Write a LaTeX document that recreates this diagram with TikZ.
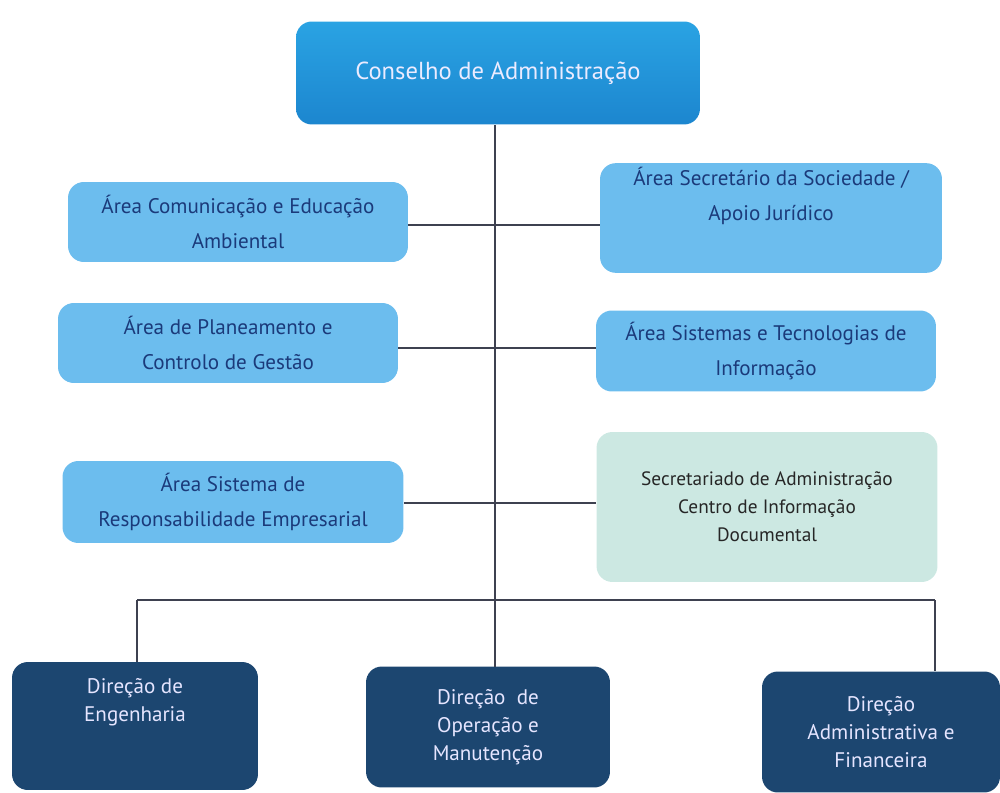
\documentclass[tikz,border=0pt]{standalone}
\usepackage{fontspec}
\setmainfont{PT Sans}
\usetikzlibrary{shadings}
\definecolor{topblue}{HTML}{1C86CF}
\definecolor{topblue2}{HTML}{2AA3E3}
\definecolor{lightblue}{HTML}{6CBDEE}
\definecolor{navy}{HTML}{1C4670}
\definecolor{palegreen}{HTML}{CCE8E2}
\definecolor{textblue}{HTML}{1B3A7A}
\definecolor{linecol}{HTML}{3E4150}
\tikzset{
  box/.style={rounded corners=9pt, draw=none, align=center, inner sep=2pt},
  topbox/.style={box, top color=topblue2, bottom color=topblue, text=white!92!blue,
    minimum width=8.08cm, minimum height=2.06cm, font=\fontsize{14}{17}\selectfont},
  areabox/.style={box, fill=lightblue, text=textblue,
    minimum width=6.8cm, minimum height=1.6cm, font=\fontsize{12}{20}\selectfont},
  greenbox/.style={box, fill=palegreen, text=black!85,
    minimum width=6.82cm, minimum height=3.0cm, font=\fontsize{11}{16}\selectfont},
  dirbox/.style={box, fill=navy, text=white!90!blue,
    minimum height=2.48cm, font=\fontsize{12}{16}\selectfont},
  conn/.style={draw=linecol, line width=1.1pt}
}
\begin{document}
\begin{tikzpicture}[x=0.02cm,y=-0.02cm]
\useasboundingbox (0,0) rectangle (1000,793);
\node[topbox] (top) at (498,73) {Conselho de Administração};
\node[areabox] (l1) at (238,222) {Área Comunicação e Educação\\Ambiental};
\node[areabox, minimum height=2.14cm, minimum width=6.84cm] (r1) at (771,218) {Área Secretário da Sociedade /\\Apoio Jurídico\\[8pt]};
\node[areabox] (l2) at (228,343) {Área de Planeamento e\\Controlo de Gestão};
\node[areabox, minimum height=1.62cm] (r2) at (766,351) {Área Sistemas e Tecnologias de\\Informação};
\node[areabox, minimum height=1.64cm, minimum width=6.82cm] (l3) at (233,502) {Área Sistema de\\Responsabilidade Empresarial};
\node[greenbox] (r3) at (767,507) {Secretariado de Administração\\Centro de Informação\\Documental};
\node[dirbox, minimum width=4.92cm, minimum height=2.56cm] (d1) at (135,726) {Direção de\\Engenharia\\[14pt]};
\node[dirbox, minimum width=4.88cm, minimum height=2.42cm] (d2) at (488,727) {Direção \ de\\Operação e\\Manutenção};
\node[dirbox, minimum width=4.76cm, minimum height=2.42cm] (d3) at (881,732) {Direção\\Administrativa e\\Financeira};
\coordinate (bus1) at (137,600);
\coordinate (bus3) at (935,600);
\coordinate (trunk) at (495,667);
\draw[conn] (495,125) -- (trunk);
\draw[conn] (l1.east |- 0,225) -- (r1.west |- 0,225);
\draw[conn] (l2.east |- 0,348) -- (r2.west |- 0,348);
\draw[conn] (l3.east |- 0,503) -- (r3.west |- 0,503);
\draw[conn] (bus1) -- (bus3);
\draw[conn] (bus1) -- (bus1 |- d1.north);
\draw[conn] (bus3) -- (bus3 |- d3.north);
\end{tikzpicture}
\end{document}
